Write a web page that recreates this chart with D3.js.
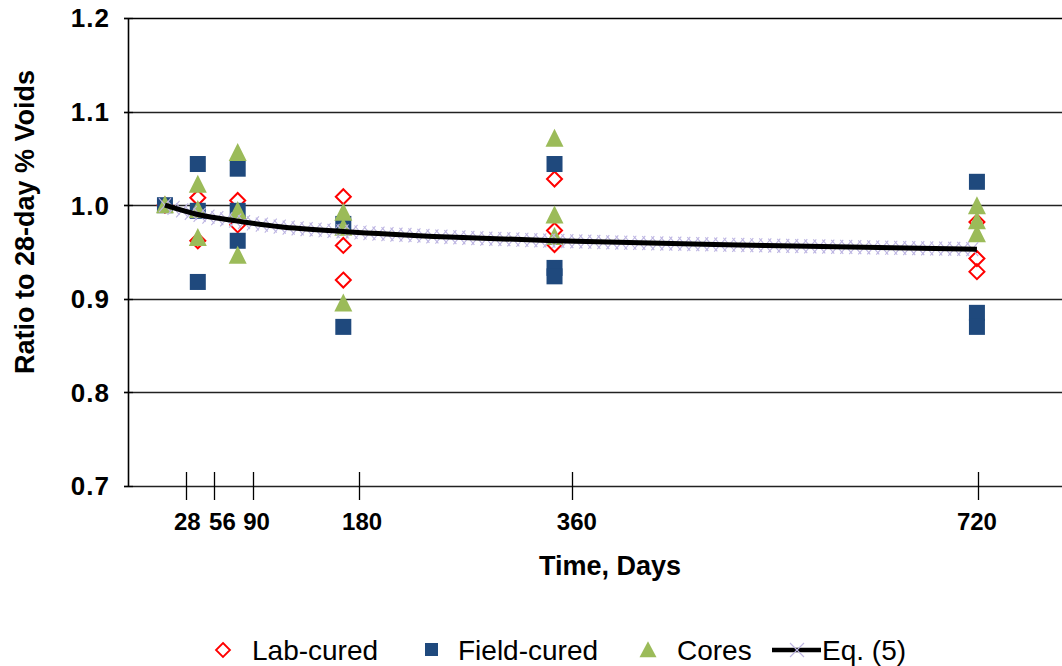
<!DOCTYPE html>
<html><head><meta charset="utf-8">
<script src="https://cdn.jsdelivr.net/npm/d3@7"></script>
<style>
html,body{margin:0;padding:0;background:#fff;}
text{font-family:"Liberation Sans",Arial,sans-serif;}
</style></head>
<body>
<svg id="chart" width="1062" height="666"></svg>
<script>
// ---- data ----
const labCured = [
  [28,1.000],
  [56,1.008],[56,0.962],
  [90,1.005],[90,0.979],
  [180,1.009],[180,0.957],[180,0.920],
  [360,1.028],[360,0.973],[360,0.958],
  [720,0.982],[720,0.943],[720,0.929]
];
const fieldCured = [
  [28,1.000],
  [56,1.044],[56,0.994],[56,0.918],
  [90,1.039],[90,0.994],[90,0.962],
  [180,0.980],[180,0.870],
  [360,1.044],[360,0.933],[360,0.924],
  [720,1.025],[720,0.885],[720,0.870]
];
const cores = [
  [28,1.000],
  [56,1.022],[56,0.995],[56,0.965],
  [90,1.056],[90,0.994],[90,0.946],
  [180,0.992],[180,0.976],[180,0.895],
  [360,1.071],[360,0.989],[360,0.966],
  [720,0.999],[720,0.983],[720,0.969]
];
const eqDays   = [28, 56, 90, 126, 180, 270, 360, 540, 720];
const eqValues = [1.000, 0.990, 0.983, 0.977, 0.972, 0.966, 0.962, 0.957, 0.953];
const xTickLabels = ["28","56","90","180","360","720"];
const xTickAt     = [46, 70, 103, 193, 375, 721];     // tick marks on the day axis
const xLabelAt    = [47, 77, 106, 196, 379, 720];     // label centres on the day axis
const yTicks = [0.7, 0.8, 0.9, 1.0, 1.1, 1.2];
const legendItems = ["Lab-cured","Field-cured","Cores","Eq. (5)"];

// ---- layout ----
const svg = d3.select("#chart");
const W = 1062, H = 666;
const x = d3.scaleLinear().domain([0, 800]).range([132.1, 1070.8]);
const y = d3.scaleLinear().domain([0.7, 1.2]).range([486, 18]);
const left = 128.5;

const blue = "#1f497d", green = "#9bbb59", red = "#ff0000", lav = "#bdb5e2";

// gridlines
svg.append("g").selectAll("line").data(yTicks).join("line")
  .attr("x1", 124).attr("x2", W)
  .attr("y1", d => Math.round(y(d)) + 0.5).attr("y2", d => Math.round(y(d)) + 0.5)
  .attr("stroke", d => d === 1.2 ? "#000" : "#222").attr("stroke-width", d => d===1.2?1.6:1.3);

// y axis line and ticks
svg.append("line").attr("x1", left).attr("x2", left).attr("y1", y(1.2)).attr("y2", y(0.7))
  .attr("stroke", "#000").attr("stroke-width", 1.6);
svg.append("g").selectAll("line").data(yTicks).join("line")
  .attr("x1", 124).attr("x2", 133)
  .attr("y1", d => Math.round(y(d)) + 0.5).attr("y2", d => Math.round(y(d)) + 0.5)
  .attr("stroke", "#000").attr("stroke-width", 1.3);
svg.append("g").selectAll("text").data(yTicks).join("text")
  .attr("x", 110).attr("y", d => y(d)).attr("dy", "0.36em")
  .attr("text-anchor", "end").attr("font-weight", "bold").attr("font-size", 26)
  .attr("letter-spacing", 1)
  .text(d => d3.format(".1f")(d));

// x axis ticks & labels
svg.append("g").selectAll("line").data(xTickAt).join("line")
  .attr("x1", d => Math.round(x(d)) + 0.5).attr("x2", d => Math.round(x(d)) + 0.5)
  .attr("y1", 472).attr("y2", 500).attr("stroke", "#000").attr("stroke-width", 1.3);
svg.append("g").selectAll("text").data(xLabelAt).join("text")
  .attr("x", d => x(d)).attr("y", 530)
  .attr("text-anchor", "middle").attr("font-weight", "bold").attr("font-size", 24)
  .text((d, i) => xTickLabels[i]);

// axis titles
svg.append("text").attr("x", 610).attr("y", 575).attr("text-anchor", "middle")
  .attr("font-weight", "bold").attr("font-size", 27).text("Time, Days");
svg.append("text").attr("transform", "translate(34,222) rotate(-90)")
  .attr("text-anchor", "middle").attr("font-weight", "bold").attr("font-size", 27)
  .text("Ratio to 28-day % Voids");

// markers
const diamond = (s) => `M0,${-s}L${s},0L0,${s}L${-s},0Z`;
const tri = (w, h) => `M0,${-h*0.55}L${w/2},${h*0.45}L${-w/2},${h*0.45}Z`;

svg.append("g").selectAll("path").data(labCured).join("path")
  .attr("transform", d => `translate(${x(d[0])},${y(d[1])})`)
  .attr("d", diamond(7.5)).attr("fill", "none").attr("stroke", red).attr("stroke-width", 2);
svg.append("g").selectAll("rect").data(fieldCured).join("rect")
  .attr("x", d => x(d[0]) - 8).attr("y", d => y(d[1]) - 8)
  .attr("width", 16).attr("height", 16).attr("fill", blue);
svg.append("g").selectAll("path").data(cores).join("path")
  .attr("transform", d => `translate(${x(d[0])},${y(d[1])})`)
  .attr("d", tri(18, 18)).attr("fill", green);

// Eq. (5) line
const eqPts = eqDays.map((d, i) => [x(d), y(eqValues[i])]);
const eqPath = svg.append("path").attr("d", d3.line().curve(d3.curveMonotoneX)(eqPts))
  .attr("fill", "none").attr("stroke", "#000").attr("stroke-width", 5);
// crosses along the curve (marker style)
const node = eqPath.node(), L = node.getTotalLength();
const cross = svg.append("g");
for (let s = 0; s <= L; s += 9) {
  const p = node.getPointAtLength(s);
  cross.append("path").attr("d", `M${p.x-6},${p.y-7}L${p.x+6},${p.y+7}M${p.x-6},${p.y+7}L${p.x+6},${p.y-7}`)
    .attr("stroke", lav).attr("stroke-width", 1.1).attr("fill", "none");
}
eqPath.raise();

// legend
const ly = 650;
const lg = svg.append("g");
lg.append("path").attr("transform", `translate(223,${ly})`).attr("d", diamond(7))
  .attr("fill", "none").attr("stroke", red).attr("stroke-width", 1.8);
lg.append("rect").attr("x", 425).attr("y", ly - 7).attr("width", 13).attr("height", 13).attr("fill", blue);
lg.append("path").attr("transform", `translate(648,${ly})`).attr("d", tri(17, 16)).attr("fill", green);
lg.append("line").attr("x1", 772).attr("x2", 821).attr("y1", ly).attr("y2", ly).attr("stroke", "#000").attr("stroke-width", 4.5);
lg.append("path").attr("d", `M790,${ly-7}L804,${ly+7}M790,${ly+7}L804,${ly-7}`).attr("stroke", lav).attr("stroke-width", 1.1);
const lx = [252, 458, 677, 822];
lg.selectAll("text").data(legendItems).join("text")
  .attr("x", (d, i) => lx[i]).attr("y", ly + 10).attr("font-size", 28).text(d => d);
</script>
</body></html>
